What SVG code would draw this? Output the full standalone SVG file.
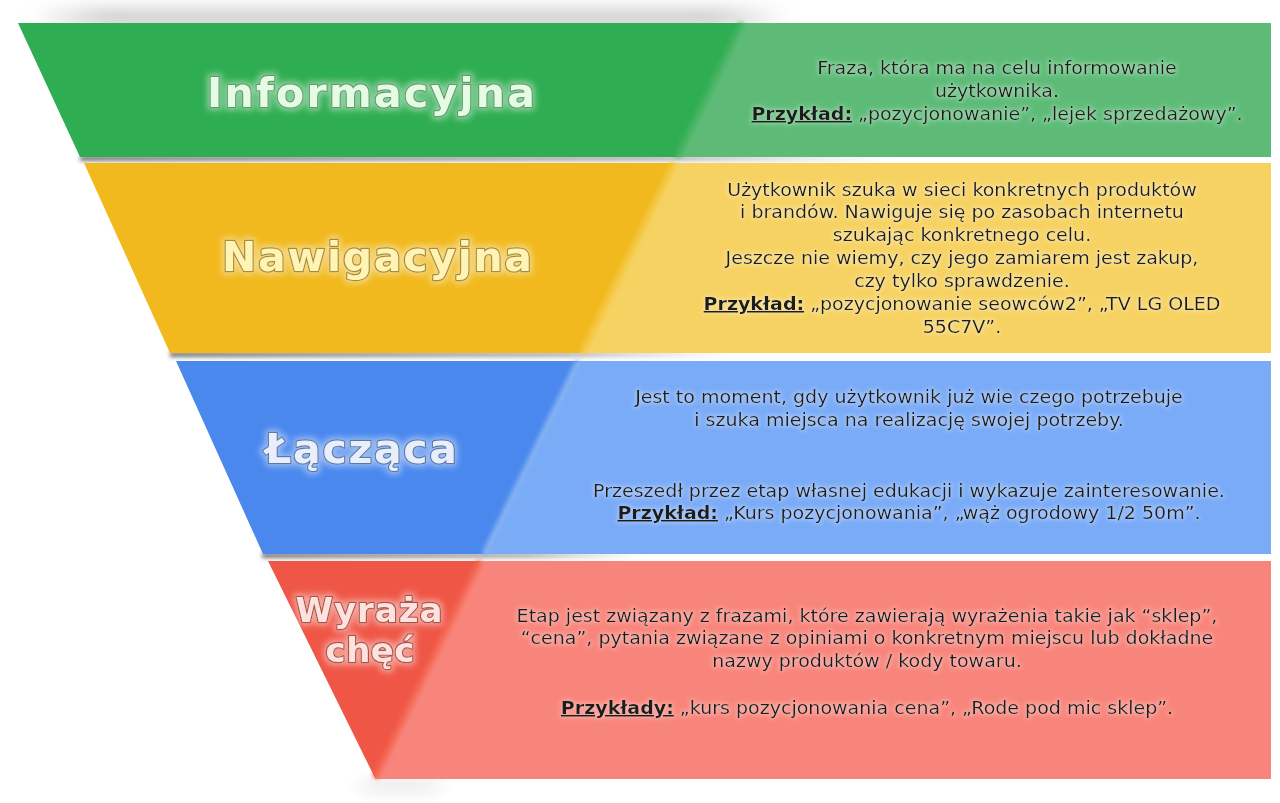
<svg xmlns="http://www.w3.org/2000/svg" width="1280" height="803" viewBox="0 0 1280 803">
<defs>
<style>
.t{font-family:"DejaVu Sans","Verdana","Liberation Sans",sans-serif;font-size:17px;fill:#1f1f1f;text-anchor:middle}
.ex{font-weight:bold;text-decoration:underline;fill:#1c1c1c}
.title{font-family:"DejaVu Sans","Liberation Sans",sans-serif;font-weight:bold;text-anchor:middle;paint-order:stroke;stroke-width:2.4;stroke-linejoin:round}
</style>
<filter id="halo" x="-10%" y="-60%" width="120%" height="220%">
<feMorphology in="SourceAlpha" operator="dilate" radius="1" result="d"/>
<feGaussianBlur in="d" stdDeviation="2.2" result="b"/>
<feFlood flood-color="#ffffff" flood-opacity="0.35"/>
<feComposite in2="b" operator="in" result="g"/>
<feMerge><feMergeNode in="g"/><feMergeNode in="SourceGraphic"/></feMerge>
</filter>
<filter id="tglow" x="-20%" y="-50%" width="140%" height="200%">
<feMorphology in="SourceAlpha" operator="dilate" radius="2" result="d"/>
<feGaussianBlur in="d" stdDeviation="3" result="b"/>
<feFlood flood-color="#ffffff" flood-opacity="0.45"/>
<feComposite in2="b" operator="in" result="g"/>
<feMerge><feMergeNode in="g"/><feMergeNode in="SourceGraphic"/></feMerge>
</filter>
<filter id="soft" filterUnits="userSpaceOnUse" x="0" y="0" width="1280" height="803">
<feGaussianBlur stdDeviation="2"/>
</filter>
<filter id="softer" filterUnits="userSpaceOnUse" x="0" y="0" width="1280" height="803">
<feGaussianBlur stdDeviation="8"/>
</filter>
<linearGradient id="shg" x1="0" y1="0" x2="1" y2="0">
<stop offset="0" stop-color="#6a6a6a" stop-opacity="0.95"/>
<stop offset="0.7" stop-color="#8a8a8a" stop-opacity="0.7"/>
<stop offset="1" stop-color="#aaaaaa" stop-opacity="0"/>
</linearGradient>
<linearGradient id="topg" x1="0" y1="0" x2="1" y2="0">
<stop offset="0" stop-color="#a8a8a8" stop-opacity="0"/>
<stop offset="0.1" stop-color="#a8a8a8" stop-opacity="0.55"/>
<stop offset="0.9" stop-color="#a8a8a8" stop-opacity="0.55"/>
<stop offset="1" stop-color="#a8a8a8" stop-opacity="0"/>
</linearGradient>
</defs>

<rect width="1280" height="803" fill="#ffffff"/>

<g id="shadows">
<rect x="30" y="8" width="760" height="20" fill="url(#topg)" filter="url(#softer)"/>
<ellipse cx="400" cy="786" rx="45" ry="6" fill="#000" opacity="0.1" filter="url(#softer)"/>
<rect x="80" y="156" width="820" height="5" fill="url(#shg)" filter="url(#soft)"/>
<rect x="170" y="352" width="560" height="5" fill="url(#shg)" filter="url(#soft)"/>
<rect x="262" y="553" width="380" height="5" fill="url(#shg)" filter="url(#soft)"/>
</g>

<g id="stage-informacyjna">
<rect x="660" y="23" width="611" height="134" fill="#5dbb77"/>
<polygon points="18,23 742,23 677,157 80,157" fill="#2fad52"/>
<line x1="742" y1="23" x2="677" y2="157" stroke="#44b361" stroke-width="6" filter="url(#soft)"/>
<text class="title" x="371" y="107" font-size="41" textLength="328" lengthAdjust="spacing" fill="#e6fbe4" stroke="#5e9c68" filter="url(#tglow)">Informacyjna</text>
<g transform="translate(997 0) scale(1.12 1) translate(-997 0)" filter="url(#halo)">
<text class="t" x="997" y="74">Fraza, która ma na celu informowanie</text>
<text class="t" x="997" y="97">użytkownika.</text>
<text class="t" x="997" y="120"><tspan class="ex">Przykład:</tspan> „pozycjonowanie”, „lejek sprzedażowy”.</text>
</g>
</g>

<g id="stage-nawigacyjna">
<rect x="560" y="163" width="711" height="190" fill="#f6d262"/>
<polygon points="84,163 674,163 582,353 170,353" fill="#f1b91e"/>
<line x1="674" y1="163" x2="582" y2="353" stroke="#f4c640" stroke-width="6" filter="url(#soft)"/>
<text class="title" x="377" y="271" font-size="41" textLength="310" lengthAdjust="spacing" fill="#fff3b6" stroke="#a88c30" filter="url(#tglow)">Nawigacyjna</text>
<g transform="translate(962 0) scale(1.12 1) translate(-962 0)" filter="url(#halo)">
<text class="t" x="962" y="196">Użytkownik szuka w sieci konkretnych produktów</text>
<text class="t" x="962" y="218">i brandów. Nawiguje się po zasobach internetu</text>
<text class="t" x="962" y="241">szukając konkretnego celu.</text>
<text class="t" x="962" y="264">Jeszcze nie wiemy, czy jego zamiarem jest zakup,</text>
<text class="t" x="962" y="287">czy tylko sprawdzenie.</text>
<text class="t" x="962" y="310"><tspan class="ex">Przykład:</tspan> „pozycjonowanie seowców2”, „TV LG OLED</text>
<text class="t" x="962" y="333">55C7V”.</text>
</g>
</g>

<g id="stage-laczaca">
<rect x="460" y="361" width="811" height="193" fill="#7aabf7"/>
<polygon points="176,361 578,361 484,554 263,554" fill="#4a88ee"/>
<line x1="578" y1="361" x2="484" y2="554" stroke="#86b2f2" stroke-width="5" filter="url(#soft)"/>
<text class="title" x="361" y="463" font-size="41" textLength="192" lengthAdjust="spacing" fill="#e9eefb" stroke="#5a78aa" filter="url(#tglow)">Łącząca</text>
<g transform="translate(909 0) scale(1.12 1) translate(-909 0)" filter="url(#halo)">
<text class="t" x="909" y="403">Jest to moment, gdy użytkownik już wie czego potrzebuje</text>
<text class="t" x="909" y="426">i szuka miejsca na realizację swojej potrzeby.</text>
<text class="t" x="909" y="497">Przeszedł przez etap własnej edukacji i wykazuje zainteresowanie.</text>
<text class="t" x="909" y="519"><tspan class="ex">Przykład:</tspan> „Kurs pozycjonowania”, „wąż ogrodowy 1/2 50m”.</text>
</g>
</g>

<g id="stage-wyraza-chec">
<rect x="375" y="561" width="896" height="218" fill="#f8857b"/>
<polygon points="268,561 480,561 375,778" fill="#ef5646"/>
<line x1="480" y1="561" x2="375" y2="778" stroke="#f46a55" stroke-width="6" filter="url(#soft)"/>
<text class="title" x="369" y="622" font-size="34" textLength="147" lengthAdjust="spacing" fill="#fde3df" stroke="#b05246" filter="url(#tglow)">Wyraża</text>
<text class="title" x="370" y="662" font-size="34" textLength="89" lengthAdjust="spacing" fill="#fde3df" stroke="#b05246" filter="url(#tglow)">chęć</text>
<g transform="translate(867 0) scale(1.12 1) translate(-867 0)" filter="url(#halo)">
<text class="t" x="867" y="622">Etap jest związany z frazami, które zawierają wyrażenia takie jak “sklep”,</text>
<text class="t" x="867" y="644">“cena”, pytania związane z opiniami o konkretnym miejscu lub dokładne</text>
<text class="t" x="867" y="667">nazwy produktów / kody towaru.</text>
<text class="t" x="867" y="714"><tspan class="ex">Przykłady:</tspan> „kurs pozycjonowania cena”, „Rode pod mic sklep”.</text>
</g>
</g>
</svg>
